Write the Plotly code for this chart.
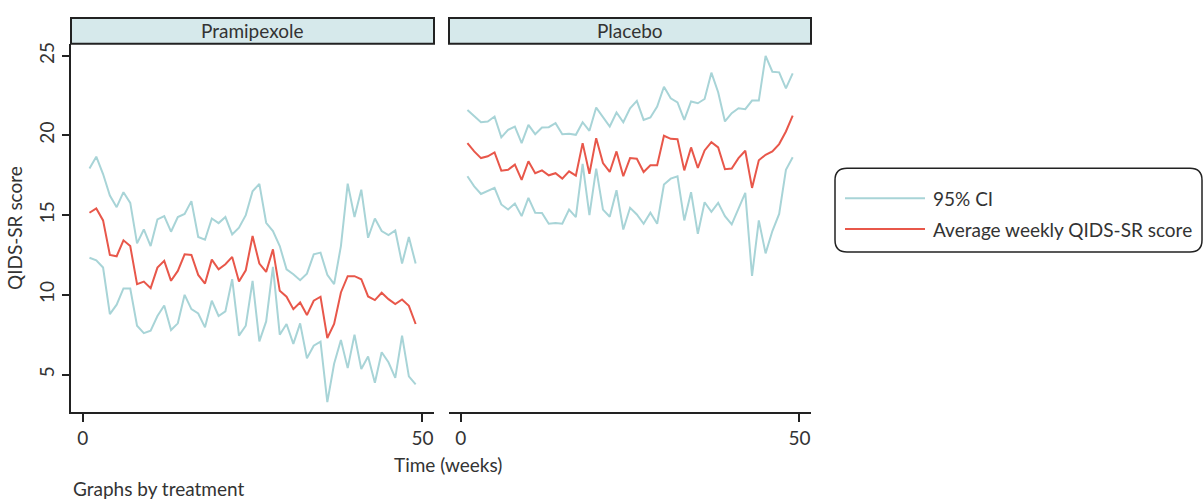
import plotly.graph_objects as go

weeks = list(range(1, 50))

prami_mean = [15.15, 15.42, 14.67, 12.5, 12.42, 13.42, 13.06, 10.67, 10.83, 10.42,
              11.71, 12.13, 10.88, 11.5, 12.54, 12.5, 11.25, 10.71, 12.21, 11.6,
              11.92, 12.38, 10.83, 11.54, 13.69, 11.96, 11.44, 12.85, 10.25, 9.88,
              9.1, 9.52, 8.73, 9.63, 9.88, 7.29, 8.17, 10.15, 11.17, 11.17,
              10.98, 9.9, 9.67, 10.13, 9.73, 9.42, 9.71, 9.31, 8.17]
prami_upper = [17.92, 18.67, 17.58, 16.23, 15.5, 16.44, 15.77, 13.23, 14.1, 13.06,
               14.73, 14.94, 13.96, 14.88, 15.08, 15.88, 13.63, 13.46, 14.79, 14.5,
               14.88, 13.79, 14.21, 15.0, 16.5, 16.96, 14.52, 14.0, 13.06, 11.6,
               11.29, 10.92, 11.33, 12.54, 12.65, 11.25, 10.67, 13.06, 16.98, 14.88,
               16.6, 13.58, 14.79, 14.0, 13.75, 14.04, 11.96, 13.63, 11.96]
prami_lower = [12.33, 12.17, 11.71, 8.79, 9.38, 10.4, 10.4, 8.06, 7.6, 7.75,
               8.67, 9.33, 7.79, 8.21, 10.0, 9.1, 8.83, 7.96, 9.63, 8.67,
               8.96, 10.98, 7.44, 8.06, 10.88, 7.08, 8.33, 11.75, 7.5, 8.17,
               6.92, 8.21, 6.02, 6.81, 7.06, 3.27, 5.67, 7.17, 5.4, 7.5,
               5.35, 6.13, 4.48, 6.4, 5.77, 4.79, 7.44, 4.88, 4.38]

plac_mean = [19.52, 19.0, 18.58, 18.69, 18.94, 17.79, 17.85, 18.17, 17.21, 18.38,
             17.63, 17.81, 17.5, 17.63, 17.29, 17.75, 17.48, 19.52, 17.6, 19.83,
             18.27, 17.71, 19.0, 17.44, 18.58, 18.54, 17.71, 18.13, 18.13, 19.98,
             19.79, 19.77, 17.81, 19.25, 17.96, 19.06, 19.58, 19.25, 17.88, 17.92,
             18.58, 19.04, 16.71, 18.44, 18.79, 19.0, 19.46, 20.25, 21.25]
plac_upper = [21.6, 21.19, 20.83, 20.88, 21.19, 19.88, 20.35, 20.56, 19.52, 20.67,
              20.08, 20.5, 20.52, 20.77, 20.08, 20.1, 20.04, 20.83, 20.29, 21.75,
              21.19, 20.56, 21.44, 20.83, 21.71, 22.17, 20.98, 21.13, 21.81, 23.06,
              22.33, 22.08, 20.98, 22.13, 22.02, 22.29, 23.94, 22.71, 20.88, 21.4,
              21.71, 21.65, 22.19, 22.19, 25.0, 24.0, 23.96, 22.96, 23.9]
plac_lower = [17.44, 16.81, 16.33, 16.54, 16.71, 15.67, 15.35, 15.73, 14.94, 16.08,
              15.15, 15.13, 14.46, 14.5, 14.46, 15.35, 14.88, 18.21, 15.0, 17.92,
              15.35, 14.9, 16.56, 14.1, 15.46, 15.04, 14.46, 15.15, 14.46, 16.92,
              17.29, 17.44, 14.67, 16.44, 13.83, 15.81, 15.21, 15.77, 14.94, 14.42,
              15.42, 16.4, 11.19, 14.67, 12.6, 14.0, 15.08, 17.85, 18.63]

panel_titles = ["Pramipexole", "Placebo"]
legend_labels = ["95% CI", "Average weekly QIDS-SR score"]
y_ticks = [5, 10, 15, 20, 25]
x_ticks = [0, 50]

CI_COLOR = "#a8d4d7"
MEAN_COLOR = "#e8574a"
DARK = "#222222"
TEXT = "#333333"
FONT = "Lato"
FS = 19
W, H = 1204, 501

def px(x):
    return x / W

def py(y):
    return (H - y) / H

fig = go.Figure()

panels = [
    ("x", "y", prami_lower, prami_upper, prami_mean),
    ("x2", "y2", plac_lower, plac_upper, plac_mean),
]
for xa, ya, lo, up, mn in panels:
    for series in (lo, up):
        fig.add_trace(go.Scatter(x=weeks, y=series, mode="lines", xaxis=xa, yaxis=ya,
                                 line=dict(color=CI_COLOR, width=2), showlegend=False,
                                 hoverinfo="skip"))
    fig.add_trace(go.Scatter(x=weeks, y=mn, mode="lines", xaxis=xa, yaxis=ya,
                             line=dict(color=MEAN_COLOR, width=2), showlegend=False))

xl = [71, 434]
xr = [449, 811]
ytop, ybot = 42, 412
yrange = [2.625, 25.75]
xrange = [-1.72, 51.7]

axis_font = dict(family=FONT, size=FS, color=TEXT)
common_x = dict(range=xrange, tickvals=x_ticks, ticks="outside", ticklen=8, tickwidth=2,
                tickcolor=DARK, showline=True, linecolor=DARK, linewidth=2, showgrid=False,
                zeroline=False, tickfont=axis_font)

fig.update_layout(
    width=W, height=H, autosize=False,
    margin=dict(l=0, r=0, t=0, b=0),
    paper_bgcolor="white", plot_bgcolor="white",
    font=dict(family=FONT, color=TEXT),
    xaxis=dict(common_x, domain=[px(xl[0]), px(xl[1])], anchor="y"),
    xaxis2=dict(common_x, domain=[px(xr[0]), px(xr[1])], anchor="y2"),
    yaxis=dict(range=yrange, domain=[py(ybot), py(ytop)], tickvals=y_ticks,
               ticks="outside", ticklen=7, tickwidth=2, tickcolor=DARK, tickangle=-90,
               showline=True, linecolor=DARK, linewidth=2, showgrid=False, zeroline=False,
               tickfont=axis_font, anchor="x",
               title=dict(text="QIDS-SR score", font=dict(family=FONT, size=FS, color=TEXT),
                          standoff=8)),
    yaxis2=dict(range=yrange, domain=[py(ybot), py(ytop)], showticklabels=False,
                ticks="", showline=False, showgrid=False, zeroline=False, anchor="x2",
                matches="y"),
    showlegend=False,
)

shapes = []
annotations = []
for (x0, x1), title in zip([xl, xr], panel_titles):
    shapes.append(dict(type="rect", xref="paper", yref="paper", x0=px(x0), x1=px(x1),
                       y0=py(ytop), y1=py(16), fillcolor="#d6e9eb",
                       line=dict(color=DARK, width=2), layer="above"))
    annotations.append(dict(text=title, xref="paper", yref="paper", x=px((x0 + x1) / 2),
                            y=py(29), showarrow=False, xanchor="center", yanchor="middle",
                            font=dict(family=FONT, size=FS, color=TEXT)))

# legend box (rounded)
bx0, bx1, by0, by1, r = 835, 1202, 167, 251, 12
path = (f"M {px(bx0 + r)},{py(by0)} L {px(bx1 - r)},{py(by0)} "
        f"Q {px(bx1)},{py(by0)} {px(bx1)},{py(by0 + r)} "
        f"L {px(bx1)},{py(by1 - r)} Q {px(bx1)},{py(by1)} {px(bx1 - r)},{py(by1)} "
        f"L {px(bx0 + r)},{py(by1)} Q {px(bx0)},{py(by1)} {px(bx0)},{py(by1 - r)} "
        f"L {px(bx0)},{py(by0 + r)} Q {px(bx0)},{py(by0)} {px(bx0 + r)},{py(by0)} Z")
shapes.append(dict(type="path", xref="paper", yref="paper", path=path,
                   line=dict(color=DARK, width=1.5), fillcolor="white"))
for label, color, ly in zip(legend_labels, [CI_COLOR, MEAN_COLOR], [197, 228]):
    shapes.append(dict(type="line", xref="paper", yref="paper", x0=px(845), x1=px(925),
                       y0=py(ly), y1=py(ly), line=dict(color=color, width=2)))
    annotations.append(dict(text=label, xref="paper", yref="paper", x=px(931), y=py(ly),
                            showarrow=False, xanchor="left", yanchor="middle",
                            font=dict(family=FONT, size=FS, color=TEXT)))

annotations.append(dict(text="Time (weeks)", xref="paper", yref="paper", x=px(448), y=py(464),
                        showarrow=False, xanchor="center", yanchor="middle",
                        font=dict(family=FONT, size=FS, color=TEXT)))
annotations.append(dict(text="Graphs by treatment", xref="paper", yref="paper", x=px(71), y=py(488),
                        showarrow=False, xanchor="left", yanchor="middle",
                        font=dict(family=FONT, size=FS, color=TEXT)))

fig.update_layout(shapes=shapes, annotations=annotations)
fig.write_html("out.html")
